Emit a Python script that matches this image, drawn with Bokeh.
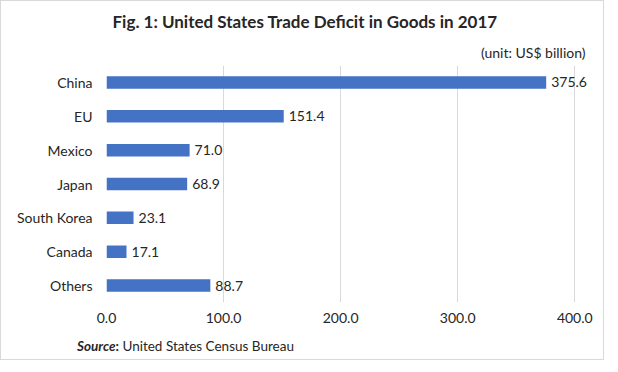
from bokeh.plotting import figure
from bokeh.models import FactorRange, Range1d, FixedTicker, NumeralTickFormatter, ColumnDataSource, Title, Div
from bokeh.layouts import column
from bokeh.core.properties import value
from bokeh.embed import file_html
from bokeh.resources import INLINE

categories = ["China", "EU", "Mexico", "Japan", "South Korea", "Canada", "Others"]
deficits = [375.6, 151.4, 71.0, 68.9, 23.1, 17.1, 88.7]
x_ticks = [0, 100, 200, 300, 400]

FONT = "Lato"
TXT = "#262626"

src = ColumnDataSource(dict(cat=categories, val=deficits,
                            lab=["%.1f" % v for v in deficits]))

p = figure(width=602, height=334, output_backend="svg", toolbar_location=None,
           title=None,
           y_range=FactorRange(factors=list(reversed(categories))),
           x_range=Range1d(0, 416),
           min_border_left=105, min_border_right=10, min_border_top=64, min_border_bottom=33)
p.outline_line_color = None
p.background_fill_color = "white"

p.hbar(y="cat", right="val", left=0, height=0.37, source=src,
       fill_color="#4472C4", line_color=None)
p.text(x="val", y="cat", text="lab", source=src, x_offset=5,
       text_baseline="middle", text_align="left", text_font=value(FONT),
       text_font_size="14px", text_color=TXT)

p.xaxis.ticker = FixedTicker(ticks=x_ticks)
p.xaxis.formatter = NumeralTickFormatter(format="0.0")
for ax in (p.xaxis, p.yaxis):
    ax.axis_line_color = None
    ax.major_tick_line_color = None
    ax.minor_tick_line_color = None
    ax.major_tick_out = 0
    ax.major_tick_in = 0
    ax.minor_tick_out = 0
    ax.major_label_text_font = FONT
    ax.major_label_text_font_size = "14px"
    ax.major_label_text_color = TXT
p.xaxis.major_label_standoff = 10
p.yaxis.major_label_standoff = 14

p.xgrid.grid_line_color = "#d9d9d9"
p.xgrid.grid_line_width = 1
p.ygrid.grid_line_color = None

p.add_layout(Title(text="(unit: US$ billion)", align="right", offset=8, text_font=FONT,
                   text_font_size="14px", text_color=TXT, text_font_style="normal"), "above")
p.add_layout(Title(text="Fig. 1: United States Trade Deficit in Goods in 2017", align="left",
                   offset=6, text_font=FONT, text_font_size="17px", text_color=TXT,
                   text_font_style="bold"), "above")

source_note = Div(text='<b><i>Source</i>:</b> United States Census Bureau',
                  width=500, height=22, margin=(2, 0, 0, 76),
                  styles={"font-family": "Lato", "font-size": "13.5px", "color": TXT})

layout = column(p, source_note, spacing=0,
                styles={"border": "1px solid #d9d9d9", "background-color": "white"})

open("out.html", "w").write(file_html(layout, INLINE))
